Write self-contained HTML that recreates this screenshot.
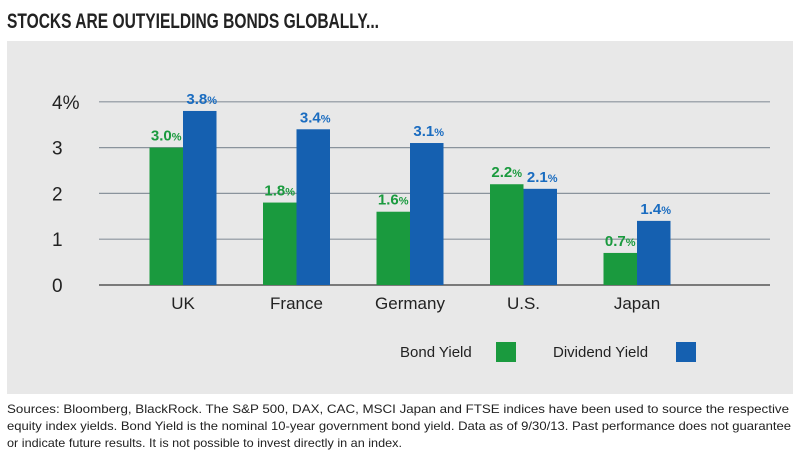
<!DOCTYPE html>
<html><head><meta charset="utf-8"><style>
body{margin:0;width:800px;height:459px;background:#fff;overflow:hidden;font-family:"Liberation Sans",sans-serif}
</style></head><body>
<svg width="800" height="459" style="position:absolute;left:0;top:0">
<text x="7" y="28" font-size="21" font-weight="bold" fill="#222" textLength="372" lengthAdjust="spacingAndGlyphs">STOCKS ARE OUTYIELDING BONDS GLOBALLY...</text>
<rect x="7" y="41" width="786" height="353" fill="#e8e8e8"/>
<g id="grid"></g><g id="bars"></g>
<g>
<text x="400" y="357" font-size="15" fill="#222">Bond Yield</text>
<rect x="496" y="342" width="20" height="20" fill="#1a9a3e"/>
<text x="553" y="357" font-size="15" fill="#222">Dividend Yield</text>
<rect x="676" y="342" width="20" height="20" fill="#1560b0"/>
</g>
<g font-size="12" fill="#222">
<text x="7" y="413" textLength="782" lengthAdjust="spacingAndGlyphs">Sources: Bloomberg, BlackRock. The S&amp;P 500, DAX, CAC, MSCI Japan and FTSE indices have been used to source the respective</text>
<text x="7" y="430" textLength="784" lengthAdjust="spacingAndGlyphs">equity index yields. Bond Yield is the nominal 10-year government bond yield. Data as of 9/30/13. Past performance does not guarantee</text>
<text x="7" y="447" textLength="395" lengthAdjust="spacingAndGlyphs">or indicate future results. It is not possible to invest directly in an index.</text>
</g>
</svg>
<script>
const categories=["UK","France","Germany","U.S.","Japan"];
const bondYield=[3.0,1.8,1.6,2.2,0.7];
const dividendYield=[3.8,3.4,3.1,2.1,1.4];
const yTicks=[0,1,2,3,4];
const yTickLabels=["0","1","2","3","4%"];
const NS="http://www.w3.org/2000/svg";
const y0=285,unit=45.8,x0=183,step=113.5,bw=33.5;
const y=v=>y0-v*unit, xc=i=>x0+i*step;
function mk(t,a,p,txt){const e=document.createElementNS(NS,t);for(const k in a)e.setAttribute(k,a[k]);if(txt!=null)e.textContent=txt;p.appendChild(e);return e;}
const grid=document.getElementById('grid'),bars=document.getElementById('bars');
yTicks.forEach((t,i)=>{
 const l=mk('line',{x1:99,x2:770,y1:y(t),y2:y(t),stroke:t===0?'#555':'#8a939c','stroke-width':t===0?1.5:1.2},grid);
 
 
 const tx=mk('text',{x:52,y:y(t)+7,'font-size':19,fill:'#222'},grid,yTickLabels[i]);
 
 
});
function lbl(x,v,col){
 const t=mk('text',{x:x,y:y(v)-7,'text-anchor':'middle','font-size':15,'font-weight':'bold',fill:col},bars);
 mk('tspan',{},t,v.toFixed(1));
 mk('tspan',{'font-size':11},t,'%');
 
 
}
categories.forEach((c,i)=>{
 const g=mk('rect',{x:xc(i)-bw,y:y(bondYield[i]),width:bw,height:bondYield[i]*unit,fill:'#1a9a3e'},bars);
 
 
 const b=mk('rect',{x:xc(i),y:y(dividendYield[i]),width:bw,height:dividendYield[i]*unit,fill:'#1560b0'},bars);
 
 
 lbl(xc(i)-bw/2,bondYield[i],'#1a9a3e');
 lbl(xc(i)+bw/2+2,dividendYield[i],'#1a6cc0');
 const t=mk('text',{x:xc(i),y:309,'text-anchor':'middle','font-size':17,fill:'#222'},bars,c);
 
 
});
</script>
</body></html>
